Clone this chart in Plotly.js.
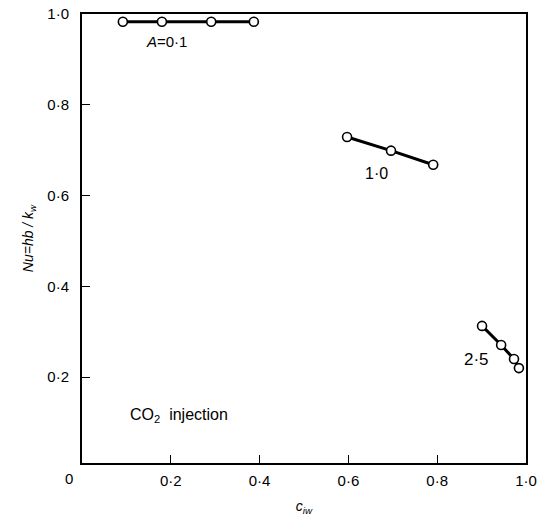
<!DOCTYPE html>
<html>
<head>
<meta charset="utf-8">
<script src="https://cdn.plot.ly/plotly-3.0.1.min.js"></script>
<style>
  html, body { margin: 0; padding: 0; background: #fff; }
  #chart { width: 551px; height: 516px; }
</style>
</head>
<body>
<div id="chart"></div>
<script>
// Nusselt number vs. injection concentration, three values of A
const seriesNames = ['A=0·1', '1·0', '2·5'];
const cA01 = [0.092, 0.180, 0.291, 0.387];
const nuA01 = [0.983, 0.983, 0.983, 0.983];
const cA10 = [0.597, 0.696, 0.791];
const nuA10 = [0.729, 0.699, 0.668];
const cA25 = [0.901, 0.944, 0.973, 0.984];
const nuA25 = [0.313, 0.271, 0.240, 0.220];

// label anchor positions for each curve (data units)
const labelX = [0.19, 0.664, 0.888];
const labelY = [0.939, 0.648, 0.238];
const labelSize = [15, 16, 17];

const xTickVals = [0.2, 0.4, 0.6, 0.8, 1.0];
const xTickText = ['0·2', '0·4', '0·6', '0·8', '1·0'];
const yTickVals = [0.2, 0.4, 0.6, 0.8, 1.0];
const yTickText = ['0·2', '0·4', '0·6', '0·8', '1·0'];
const originLabel = '0';
const noteText = 'CO<sub>2</sub>  injection';

const fontFam = 'Liberation Sans, Arial, sans-serif';

function curve(x, y, name) {
  return {
    x: x, y: y, name: name, type: 'scatter', mode: 'lines+markers',
    line: { color: '#000', width: 3 },
    marker: { symbol: 'circle', size: 9, color: '#fff',
              line: { color: '#000', width: 1.6 } },
    cliponaxis: false, hoverinfo: 'x+y'
  };
}

const data = [
  curve(cA01, nuA01, seriesNames[0]),
  curve(cA10, nuA10, seriesNames[1]),
  curve(cA25, nuA25, seriesNames[2])
];

const annotations = seriesNames.map((t, i) => ({
  x: labelX[i], y: labelY[i], xref: 'x', yref: 'y',
  text: i === 0 ? '<i>A</i>=0·1' : t, showarrow: false,
  font: { family: fontFam, size: labelSize[i], color: '#000' }
}));
annotations.push({
  x: 0.104, y: 0.115, xref: 'x', yref: 'y', xanchor: 'left',
  text: noteText, showarrow: false,
  font: { family: fontFam, size: 16, color: '#000' }
});
annotations.push({
  x: 0, y: 0, xref: 'paper', yref: 'paper', xanchor: 'center', yanchor: 'top',
  xshift: -13, yshift: -5, text: originLabel, showarrow: false,
  font: { family: fontFam, size: 15, color: '#000' }
});

const axisCommon = {
  showgrid: false, zeroline: false, showline: true, mirror: true,
  linecolor: '#000', linewidth: 2,
  ticks: 'inside', ticklen: 8, tickwidth: 1.2, tickcolor: '#000',
  tickfont: { family: fontFam, size: 15, color: '#000' }
};

const layout = {
  width: 551, height: 516,
  margin: { l: 82, r: 25, t: 14, b: 53 },
  paper_bgcolor: '#fff', plot_bgcolor: '#fff',
  showlegend: false,
  xaxis: Object.assign({}, axisCommon, {
    range: [0, 1], tickmode: 'array', tickvals: xTickVals, ticktext: xTickText,
    ticklabelstandoff: 3,
    title: { text: '<i>c<sub>iw</sub></i>', standoff: 14,
             font: { family: fontFam, size: 14, color: '#000' } }
  }),
  yaxis: Object.assign({}, axisCommon, {
    range: [0.011, 1.0], tickmode: 'array', tickvals: yTickVals, ticktext: yTickText,
    ticklabelstandoff: 8,
    title: { text: '<i>Nu=hb / k<sub>w</sub></i>', standoff: 10,
             font: { family: fontFam, size: 14, color: '#000' } }
  }),
  annotations: annotations
};

Plotly.newPlot('chart', data, layout, { staticPlot: true, displayModeBar: false });
</script>
</body>
</html>
